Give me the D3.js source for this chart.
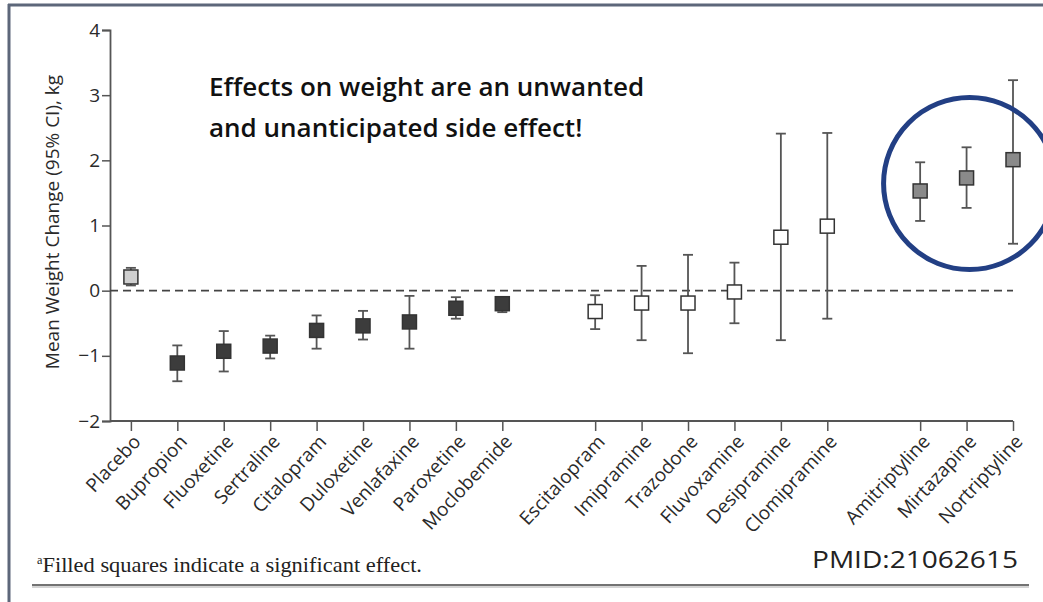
<!doctype html>
<html lang="en">

<head>
    <meta charset="utf-8">
    <title>Weight change by antidepressant</title>
    <script src="https://d3js.org/d3.v7.min.js"></script>
    <style>
        body {
            margin: 0;
            background: white;
        }

        svg text {
            font-family: "Open Sans", "Noto Sans", sans-serif;
        }
    </style>
</head>

<body>
    <svg id="svg" width="1043" height="602"></svg>

    <script>
        // drugs, in plot order; group puts a gap between the three blocks
        let drugs = ["Placebo", "Bupropion", "Fluoxetine", "Sertraline", "Citalopram", "Duloxetine",
            "Venlafaxine", "Paroxetine", "Moclobemide",
            "Escitalopram", "Imipramine", "Trazodone", "Fluvoxamine", "Desipramine", "Clomipramine",
            "Amitriptyline", "Mirtazapine", "Nortriptyline"];
        let groups = [0, 0, 0, 0, 0, 0, 0, 0, 0, 1, 1, 1, 1, 1, 1, 2, 2, 2];

        // mean weight change and 95% CI, kg
        let means = [0.21, -1.11, -0.93, -0.85, -0.61, -0.54, -0.48, -0.27, -0.20,
            -0.32, -0.19, -0.19, -0.02, 0.82, 0.99, 1.53, 1.73, 2.01];
        let lower = [0.08, -1.39, -1.24, -1.04, -0.89, -0.75, -0.89, -0.43, -0.33,
            -0.59, -0.76, -0.96, -0.50, -0.76, -0.43, 1.07, 1.27, 0.72];
        let upper = [0.35, -0.84, -0.62, -0.69, -0.38, -0.31, -0.08, -0.10, -0.10,
            -0.07, 0.38, 0.55, 0.43, 2.41, 2.42, 1.97, 2.20, 3.23];
        // placebo, significant loss, not significant, significant gain
        let effect = ["placebo", "loss", "loss", "loss", "loss", "loss", "loss", "loss", "loss",
            "ns", "ns", "ns", "ns", "ns", "ns", "gain", "gain", "gain"];

        let yTicks = [-2, -1, 0, 1, 2, 3, 4];

        let data = drugs.map((d, i) => ({
            name: d, slot: i + groups[i], mean: means[i], lo: lower[i], hi: upper[i], effect: effect[i]
        }));

        let svg = d3.select("#svg");
        let fills = { placebo: "#cfcfcf", loss: "#3c3c3c", ns: "#ffffff", gain: "#8a8a8a" };

        let xScale = d3.scaleLinear().domain([-0.45, d3.max(data, d => d.slot)]).range([110, 1013]);
        let yScale = d3.scaleLinear().domain([-2, 4]).range([421, 30]);

        // frame of the slide
        svg.append("rect").attr("width", 1043).attr("height", 602).attr("fill", "white");
        svg.append("line").attr("x1", 8).attr("x2", 1043).attr("y1", 5).attr("y2", 5)
            .attr("stroke", "#5d677a").attr("stroke-width", 3);
        svg.append("line").attr("x1", 9).attr("x2", 9).attr("y1", 4).attr("y2", 602)
            .attr("stroke", "#5d677a").attr("stroke-width", 3);

        // y axis
        let yAxis = svg.append("g")
            .attr("transform", "translate(110,0)")
            .call(d3.axisLeft(yScale).tickValues(yTicks).tickSize(8).tickPadding(2)
                .tickFormat(d => d < 0 ? "\u2212" + Math.abs(d) : d));
        yAxis.select(".domain").attr("stroke", "#555").attr("stroke-width", 1.8);
        yAxis.selectAll(".tick line").attr("stroke", "#555").attr("stroke-width", 1.5);
        yAxis.selectAll(".tick text").attr("font-size", 19).attr("fill", "#2a2a2a")
            .attr("font-family", "'Open Sans', sans-serif");

        // x axis
        let xAxis = svg.append("g")
            .attr("transform", "translate(0,421)")
            .call(d3.axisBottom(xScale).tickValues(data.map(d => d.slot)).tickSize(10).tickFormat(""));
        xAxis.select(".domain").attr("stroke", "#555").attr("stroke-width", 1.8)
            .attr("d", `M110,0H1013`);
        xAxis.selectAll(".tick line").attr("stroke", "#555").attr("stroke-width", 1.5);

        svg.append("g").selectAll("text")
            .data(data)
            .join("text")
            .attr("transform", d => `translate(${xScale(d.slot) + 6},438) rotate(-47)`)
            .attr("text-anchor", "end")
            .attr("dy", "0.35em")
            .attr("font-size", 19)
            .attr("fill", "#2a2a2a")
            .text(d => d.name);

        svg.append("text")
            .attr("transform", "translate(59,222) rotate(-90)")
            .attr("text-anchor", "middle")
            .attr("font-size", 19)
            .attr("fill", "#2a2a2a")
            .text("Mean Weight Change (95% CI), kg");

        // zero line
        svg.append("line")
            .attr("x1", 110).attr("x2", 1013)
            .attr("y1", yScale(0)).attr("y2", yScale(0))
            .attr("stroke", "#444").attr("stroke-width", 1.8).attr("stroke-dasharray", "8,5");

        // error bars
        let bars = svg.append("g").selectAll("g")
            .data(data)
            .join("g")
            .attr("stroke", "#555")
            .attr("stroke-width", 1.8);
        bars.append("line")
            .attr("x1", d => xScale(d.slot)).attr("x2", d => xScale(d.slot))
            .attr("y1", d => yScale(d.lo)).attr("y2", d => yScale(d.hi));
        bars.append("line")
            .attr("x1", d => xScale(d.slot) - 5).attr("x2", d => xScale(d.slot) + 5)
            .attr("y1", d => yScale(d.lo)).attr("y2", d => yScale(d.lo));
        bars.append("line")
            .attr("x1", d => xScale(d.slot) - 5).attr("x2", d => xScale(d.slot) + 5)
            .attr("y1", d => yScale(d.hi)).attr("y2", d => yScale(d.hi));

        // squares
        svg.append("g").selectAll("rect")
            .data(data)
            .join("rect")
            .attr("x", d => xScale(d.slot) - 7)
            .attr("y", d => yScale(d.mean) - 7)
            .attr("width", 14)
            .attr("height", 14)
            .attr("fill", d => fills[d.effect])
            .attr("stroke", "#333")
            .attr("stroke-width", 1.5);

        // highlight round the gains
        let gains = data.filter(d => d.effect == "gain");
        svg.append("circle")
            .attr("cx", d3.mean(gains, d => xScale(d.slot)) + 3)
            .attr("cy", 183.5)
            .attr("r", 86)
            .attr("fill", "none")
            .attr("stroke", "#223f84")
            .attr("stroke-width", 5);

        // callout
        let note = svg.append("text")
            .attr("x", 209).attr("y", 96)
            .attr("font-size", 26).attr("font-weight", 600).attr("fill", "#111");
        note.append("tspan").attr("x", 209).text("Effects on weight are an unwanted");
        note.append("tspan").attr("x", 209).attr("dy", 41).text("and unanticipated side effect!");

        // footnote and source
        let foot = svg.append("text")
            .attr("x", 37).attr("y", 572)
            .attr("font-size", 22).attr("fill", "#222")
            .attr("textLength", 385).attr("lengthAdjust", "spacingAndGlyphs")
            .style("font-family", "'Liberation Serif', 'DejaVu Serif', serif");
        foot.append("tspan").attr("font-size", 12).attr("dy", -8).text("a");
        foot.append("tspan").attr("dy", 8).text("Filled squares indicate a significant effect.");

        svg.append("text")
            .attr("x", 812).attr("y", 568)
            .attr("font-size", 24).attr("fill", "#222")
            .attr("textLength", 206).attr("lengthAdjust", "spacingAndGlyphs")
            .text("PMID:21062615");

        svg.append("line").attr("x1", 32).attr("x2", 1029).attr("y1", 585).attr("y2", 585)
            .attr("stroke", "#444").attr("stroke-width", 1.5);
        svg.append("line").attr("x1", 32).attr("x2", 1029).attr("y1", 587).attr("y2", 587)
            .attr("stroke", "#aaa").attr("stroke-width", 1);
    </script>
</body>

</html>
